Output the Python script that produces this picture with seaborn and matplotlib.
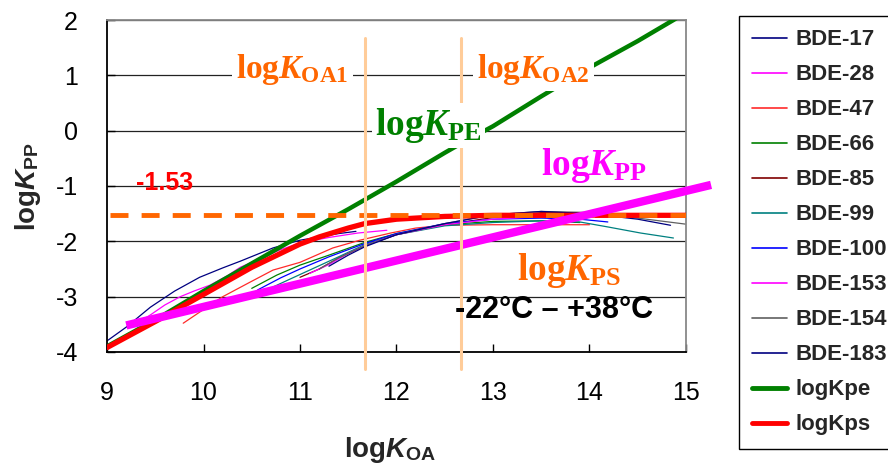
import matplotlib
matplotlib.use("Agg")
import matplotlib.pyplot as plt
import seaborn as sns
import pandas as pd
from matplotlib.lines import Line2D

# ---------------- data ----------------
bde17_x = [9.0, 9.2, 9.45, 9.7, 9.96, 10.2, 10.38, 10.55, 10.72, 10.9, 11.0, 11.2, 11.4, 11.58]
bde17_y = [-3.8, -3.55, -3.19, -2.9, -2.65, -2.48, -2.36, -2.24, -2.12, -2.03, -1.98, -1.92, -1.86, -1.82]
bde28_x = [9.25, 9.45, 9.6, 9.76, 9.9, 10.07, 10.25, 10.38, 10.59, 10.8, 11.0, 11.3, 11.6, 11.9]
bde28_y = [-3.55, -3.33, -3.15, -3.0, -2.9, -2.79, -2.62, -2.47, -2.31, -2.15, -2.03, -1.93, -1.85, -1.8]
bde47_x = [9.79, 9.96, 10.2, 10.48, 10.72, 11.0, 11.34, 11.62, 11.94, 12.2, 12.5, 13.0, 13.5, 14.0]
bde47_y = [-3.48, -3.28, -3.0, -2.74, -2.52, -2.38, -2.12, -1.98, -1.85, -1.76, -1.71, -1.7, -1.7, -1.7]
bde66_x = [10.5, 10.76, 11.0, 11.3, 11.67, 12.0, 12.5, 13.0, 13.5, 13.9]
bde66_y = [-2.85, -2.61, -2.43, -2.25, -2.02, -1.86, -1.7, -1.64, -1.63, -1.66]
bde85_x = [11.0, 11.2, 11.4, 11.67, 12.0, 12.5, 13.0, 13.5, 14.0]
bde85_y = [-2.65, -2.5, -2.3, -2.08, -1.88, -1.7, -1.57, -1.48, -1.48]
bde99_x = [10.69, 10.9, 11.1, 11.4, 11.67, 12.0, 12.5, 13.0, 13.5, 13.9, 14.19, 14.53, 14.87]
bde99_y = [-2.85, -2.68, -2.52, -2.28, -2.06, -1.88, -1.72, -1.66, -1.63, -1.65, -1.74, -1.85, -1.94]
bde100_x = [10.56, 10.8, 11.0, 11.3, 11.67, 12.0, 12.5, 13.0, 13.5, 13.9, 14.19]
bde100_y = [-2.88, -2.66, -2.5, -2.28, -2.04, -1.86, -1.68, -1.6, -1.58, -1.6, -1.65]
bde153_x = [11.1, 11.3, 11.5, 11.67, 12.0, 12.5, 13.0, 13.5]
bde153_y = [-2.58, -2.42, -2.22, -2.08, -1.88, -1.7, -1.6, -1.55]
bde154_x = [11.2, 11.4, 11.67, 12.0, 12.5, 13.0, 13.5, 14.0, 14.5, 15.0]
bde154_y = [-2.5, -2.3, -2.08, -1.88, -1.68, -1.52, -1.46, -1.48, -1.58, -1.69]
bde183_x = [11.3, 11.5, 11.67, 12.0, 12.5, 13.0, 13.5, 14.0, 14.5, 14.84]
bde183_y = [-2.45, -2.25, -2.1, -1.88, -1.68, -1.52, -1.46, -1.5, -1.6, -1.71]

kpe_x = [9.0, 9.5, 10.0, 10.5, 11.0, 11.5, 11.67, 12.0, 12.5, 12.67, 13.0, 13.5, 14.0, 14.5, 14.87, 15.0]
kpe_y = [-3.9, -3.42, -2.9, -2.4, -1.9, -1.42, -1.25, -0.92, -0.4, -0.23, 0.08, 0.62, 1.14, 1.62, 2.0, 2.14]
kps_x = [9.0, 9.5, 10.0, 10.5, 11.0, 11.2, 11.5, 11.67, 12.0, 12.5, 13.0, 14.0, 15.0]
kps_y = [-3.92, -3.45, -2.96, -2.47, -2.05, -1.92, -1.76, -1.68, -1.6, -1.55, -1.53, -1.53, -1.53]
kpp_x = [9.2, 15.26]
kpp_y = [-3.52, -0.98]

kps_max = -1.53
koa1 = 11.67
koa2 = 12.67
vline_y = [1.67, -4.3]

series_names = ["BDE-17", "BDE-28", "BDE-47", "BDE-66", "BDE-85", "BDE-99",
                "BDE-100", "BDE-153", "BDE-154", "BDE-183"]
series_x = [bde17_x, bde28_x, bde47_x, bde66_x, bde85_x, bde99_x,
            bde100_x, bde153_x, bde154_x, bde183_x]
series_y = [bde17_y, bde28_y, bde47_y, bde66_y, bde85_y, bde99_y,
            bde100_y, bde153_y, bde154_y, bde183_y]
series_colors = ["#000080", "#FF00FF", "#FF2A2A", "#008000", "#800000", "#008080",
                 "#0000FF", "#FF00FF", "#606060", "#000080"]

x_ticks = [9, 10, 11, 12, 13, 14, 15]
y_ticks = [2, 1, 0, -1, -2, -3, -4]

# ---------------- style ----------------
sns.set_theme(style="white")
plt.rcParams["font.family"] = ["Liberation Sans", "DejaVu Sans"]
plt.rcParams["axes.unicode_minus"] = False
plt.rcParams["mathtext.fontset"] = "custom"
plt.rcParams["mathtext.rm"] = "Liberation Serif:bold"
plt.rcParams["mathtext.it"] = "Liberation Serif:bold:italic"
plt.rcParams["mathtext.bf"] = "Liberation Sans:bold:italic"
plt.rcParams["mathtext.sf"] = "Liberation Sans:bold"

fig = plt.figure(figsize=(8.88, 4.71), dpi=100)
ax = fig.add_axes([0.1205, 0.2527, 0.652, 0.7048])

# grid lines
for yv in y_ticks:
    ax.axhline(yv, color="#222222", lw=0.9, zorder=0.5)

handles = []
for name, xs, ys, c in zip(series_names, series_x, series_y, series_colors):
    df = pd.DataFrame({"x": xs, "y": ys})
    sns.lineplot(data=df, x="x", y="y", ax=ax, color=c, lw=0.9,
                 estimator=None, sort=False, zorder=2)
    handles.append(Line2D([], [], color=c, lw=1.2, label=name))

df = pd.DataFrame({"x": kpe_x, "y": kpe_y})
sns.lineplot(data=df, x="x", y="y", ax=ax, color="#008000", lw=3.2,
             estimator=None, sort=False, zorder=3)
handles.append(Line2D([], [], color="#008000", lw=3.5, label="logKpe"))
df = pd.DataFrame({"x": kps_x, "y": kps_y})
sns.lineplot(data=df, x="x", y="y", ax=ax, color="#FF0000", lw=3.8,
             estimator=None, sort=False, zorder=4)
handles.append(Line2D([], [], color="#FF0000", lw=3.5, label="logKps"))

# dashed plateau line
df = pd.DataFrame({"x": [9.03, 15.0], "y": [kps_max, kps_max]})
sns.lineplot(data=df, x="x", y="y", ax=ax, color="#FF6600", lw=3.5,
             linestyle=(0, (3.7, 2.7)), estimator=None, sort=False, zorder=5)

# logKpp line
df = pd.DataFrame({"x": kpp_x, "y": kpp_y})
sns.lineplot(data=df, x="x", y="y", ax=ax, color="#FF00FF", lw=6.0,
             estimator=None, sort=False, zorder=6)
ax.lines[-1].set_clip_on(False)
ax.lines[-1].set_solid_capstyle("butt")

# vertical KOA lines
for v in (koa1, koa2):
    ax.plot([v, v], vline_y, color="#FFCC99", lw=2.2, zorder=7, clip_on=False)

ax.set_xlim(9, 15)
ax.set_ylim(-4, 2)
ax.set_xticks(x_ticks)
ax.set_yticks(y_ticks)
ax.set_xticklabels([str(t) for t in x_ticks])
ax.set_yticklabels([str(t) for t in y_ticks])
ax.tick_params(axis="both", direction="in", length=6, width=1.0, color="black",
               labelsize=18, labelcolor="black")
ax.tick_params(axis="x", pad=21, bottom=True)
ax.tick_params(axis="y", pad=21, left=True)

for s in ("left", "bottom"):
    ax.spines[s].set_color("black")
    ax.spines[s].set_linewidth(1.3)
for s in ("top", "right"):
    ax.spines[s].set_color("#888888")
    ax.spines[s].set_linewidth(1.3)

ax.set_xlabel(r"log$\mathbf{K}_{\mathsf{OA}}$", fontsize=20, fontweight="bold")
ax.set_ylabel(r"log$\mathbf{K}_{\mathsf{PP}}$", fontsize=20, fontweight="bold")
ax.xaxis.set_label_coords(0.49, -0.25)
ax.yaxis.set_label_coords(-0.11, 0.5)

serif = ["Liberation Serif", "DejaVu Serif"]
box = dict(boxstyle="square,pad=0.12", fc="white", ec="none")
ax.text(10.92, 0.95, r"log$K_{\rm OA1}$", color="#FF6600", fontsize=24,
        family=serif, fontweight="bold", ha="center", va="baseline",
        bbox=box, zorder=8)
ax.text(13.42, 0.95, r"log$K_{\rm OA2}$", color="#FF6600", fontsize=24,
        family=serif, fontweight="bold", ha="center", va="baseline",
        bbox=box, zorder=8)
ax.text(12.33, -0.08, r"log$K_{\rm PE}$", color="#008000", fontsize=27,
        family=serif, fontweight="bold", ha="center", va="baseline",
        bbox=dict(boxstyle="square,pad=0.08", fc="white", ec="none"), zorder=8)
ax.text(14.05, -0.80, r"log$K_{\rm PP}$", color="#FF00FF", fontsize=27,
        family=serif, fontweight="bold", ha="center", va="baseline", zorder=8)
ax.text(13.79, -2.70, r"log$K_{\rm PS}$", color="#FF6600", fontsize=27,
        family=serif, fontweight="bold", ha="center", va="baseline", zorder=8)
ax.text(9.6, -0.95, "-1.53", color="#FF0000", fontsize=18, fontweight="bold",
        ha="center", va="center", zorder=8)
ax.text(13.63, -3.24, "-22°C – +38°C", color="black", fontsize=22,
        fontweight="bold", ha="center", va="center", zorder=8)

leg = ax.legend(handles=handles, loc="upper left",
                bbox_to_anchor=(739 / 888, 1 - 16 / 471),
                bbox_transform=fig.transFigure, frameon=True, fancybox=False,
                shadow=False, framealpha=1, edgecolor="black",
                prop={"family": "Liberation Sans", "weight": "bold", "size": 16},
                handlelength=1.58, handletextpad=0.34, labelspacing=0.63,
                borderpad=0.6, borderaxespad=0.0)
leg.get_frame().set_linewidth(1.0)

fig.savefig("out.png", dpi=100)
